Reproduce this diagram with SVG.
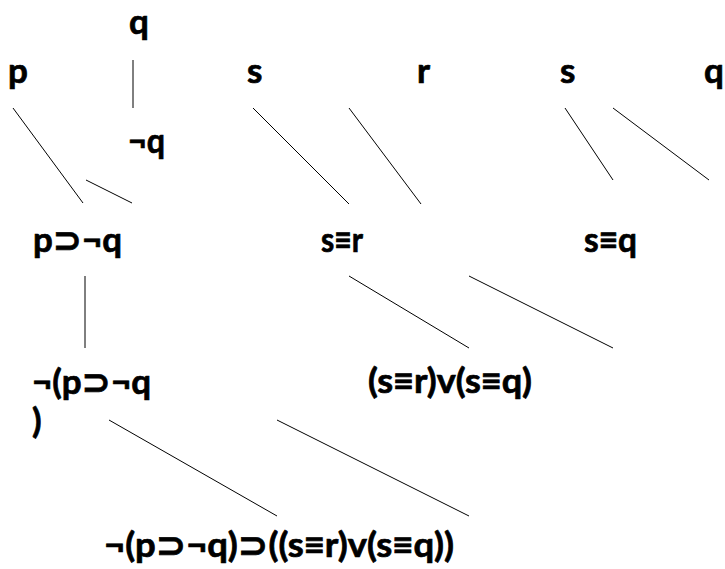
<svg xmlns="http://www.w3.org/2000/svg" width="725" height="569" viewBox="0 0 725 569">
<style>
text{font-family:Lato,"DejaVu Sans",sans-serif;font-weight:bold;font-size:35px;fill:#000;stroke:#000;stroke-width:0.7}
line{stroke:#000;stroke-width:1}
</style>
<rect width="725" height="569" fill="#fff"/>
<g id="connectors">
<line x1="133" y1="60" x2="133" y2="108"/>
<line x1="13" y1="108" x2="83" y2="203"/>
<line x1="86" y1="180" x2="132" y2="203"/>
<line x1="253" y1="108" x2="349" y2="204"/>
<line x1="349" y1="108" x2="421" y2="204"/>
<line x1="565" y1="108" x2="613" y2="180"/>
<line x1="613" y1="108" x2="709" y2="180"/>
<line x1="85" y1="276" x2="85" y2="348"/>
<line x1="349" y1="276" x2="469" y2="348"/>
<line x1="469" y1="276" x2="613" y2="348"/>
<line x1="109" y1="420" x2="277" y2="516"/>
<line x1="277" y1="420" x2="469" y2="516"/>
</g>
<g id="n-q1"><text x="129" y="34">q</text></g>
<g id="n-p"><text x="8" y="83">p</text></g>
<g id="n-s1"><text x="247" y="83">s</text></g>
<g id="n-r"><text x="417" y="83">r</text></g>
<g id="n-s2"><text x="560" y="83">s</text></g>
<g id="n-q2"><text x="704" y="83">q</text></g>
<g id="n-notq"><text x="128" y="153" textLength="37" lengthAdjust="spacingAndGlyphs">¬q</text></g>
<g id="n-pimpnotq"><text x="33" y="252" textLength="89" lengthAdjust="spacingAndGlyphs">p⊃¬q</text></g>
<g id="n-seqr"><text x="321" y="252" textLength="42" lengthAdjust="spacingAndGlyphs">s≡r</text></g>
<g id="n-seqq"><text x="584" y="252" textLength="53" lengthAdjust="spacingAndGlyphs">s≡q</text></g>
<g id="n-neg"><text x="32" y="394" textLength="119" lengthAdjust="spacingAndGlyphs">¬(p⊃¬q</text><text x="32" y="433">)</text></g>
<g id="n-or"><text x="368" y="393" textLength="164" lengthAdjust="spacingAndGlyphs">(s≡r)v(s≡q)</text></g>
<g id="n-root"><text x="104" y="557" textLength="350" lengthAdjust="spacingAndGlyphs">¬(p⊃¬q)⊃((s≡r)v(s≡q))</text></g>
</svg>
